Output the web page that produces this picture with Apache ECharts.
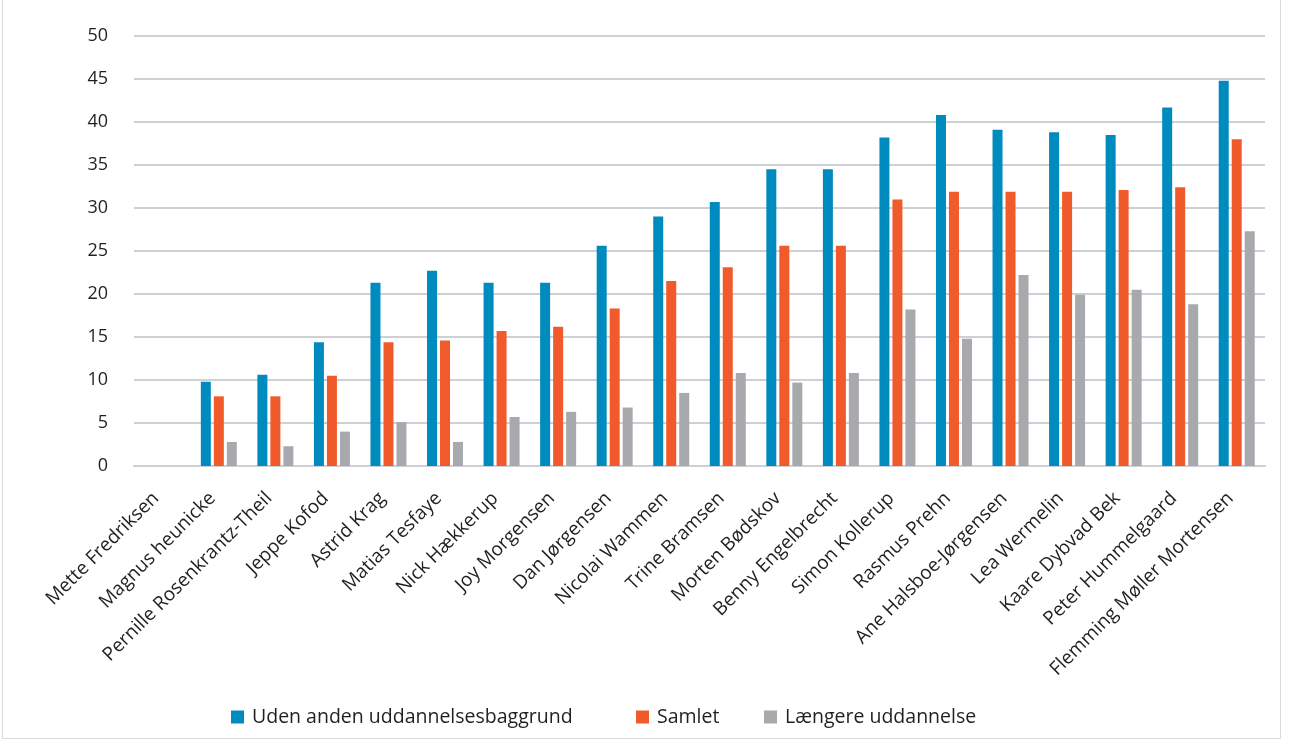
<!DOCTYPE html>
<html>
<head>
<meta charset="utf-8">
<script src="https://cdn.jsdelivr.net/npm/echarts@6/dist/echarts.min.js"></script>
<style>
html,body{margin:0;padding:0;background:#fff;}
#c{position:absolute;left:0;top:0;width:1293px;height:742px;}
#frame{position:absolute;left:2px;top:-2px;width:1279px;height:741px;border:1px solid #d9dadb;box-sizing:border-box;pointer-events:none;}
</style>
</head>
<body>
<div id="c"></div>
<div id="frame"></div>
<script>
const categories = ["Mette Fredriksen","Magnus heunicke","Pernille Rosenkrantz-Theil","Jeppe Kofod","Astrid Krag","Matias Tesfaye","Nick Hækkerup","Joy Morgensen","Dan Jørgensen","Nicolai Wammen","Trine Bramsen","Morten Bødskov","Benny Engelbrecht","Simon Kollerup","Rasmus Prehn","Ane Halsboe-Jørgensen","Lea Wermelin","Kaare Dybvad Bek","Peter Hummelgaard","Flemming Møller Mortensen"];
const udenAnden = [0,9.8,10.6,14.4,21.3,22.7,21.3,21.3,25.6,29.0,30.7,34.5,34.5,38.2,40.8,39.1,38.8,38.5,41.7,44.8];
const samlet = [0,8.1,8.1,10.5,14.4,14.6,15.7,16.2,18.3,21.5,23.1,25.6,25.6,31.0,31.9,31.9,31.9,32.1,32.4,38.0];
const laengere = [0,2.8,2.3,4.0,5.1,2.8,5.7,6.3,6.8,8.5,10.8,9.7,10.8,18.2,14.8,22.2,19.9,20.5,18.8,27.3];
const seriesNames = ["Uden anden uddannelsesbaggrund","Samlet","Længere uddannelse"];
const yTicks = [0,5,10,15,20,25,30,35,40,45,50];

const font = "'Open Sans', 'Noto Sans', sans-serif";
const legendLefts = [226, 631, 759];
const chart = echarts.init(document.getElementById('c'));
chart.setOption({
  animation:false,
  textStyle:{fontFamily:font,color:'#231f20'},
  color:['#008bbf','#f15a2b','#a7a9ac'],
  grid:{left:134,right:28,top:36,bottom:276,containLabel:false},
  legend: seriesNames.map((n,i)=>({
    top:702,left:legendLefts[i],itemWidth:13,itemHeight:13,icon:'rect',
    textStyle:{fontFamily:font,fontSize:19.5,color:'#231f20',padding:[0,0,0,3]},
    data:[n]
  })),
  xAxis:{
    type:'category',data:categories,
    axisLine:{show:true,lineStyle:{color:'#cdd0d4',width:2}},
    axisTick:{show:false},
    axisLabel:{rotate:45,fontSize:19,color:'#231f20',margin:23,interval:0,fontFamily:font,padding:[0,9,0,0]}
  },
  yAxis:{
    type:'value',min:yTicks[0],max:yTicks[yTicks.length-1],interval:5,
    axisLine:{show:false},axisTick:{show:false},
    axisLabel:{fontSize:18,color:'#231f20',margin:26,fontFamily:font},
    splitLine:{lineStyle:{color:'#cdd0d4',width:2}}
  },
  series:[
    {name:seriesNames[0],type:'bar',data:udenAnden,barWidth:10,barGap:'30%',barCategoryGap:'36%'},
    {name:seriesNames[1],type:'bar',data:samlet,barWidth:10,barGap:'30%'},
    {name:seriesNames[2],type:'bar',data:laengere,barWidth:10,barGap:'30%'}
  ]
});
</script>
</body>
</html>
